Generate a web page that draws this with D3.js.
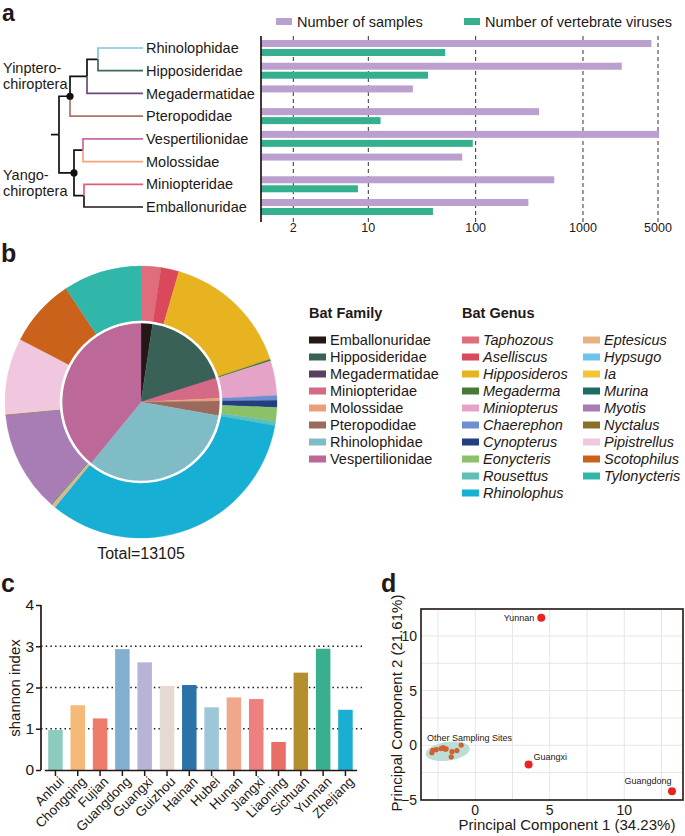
<!DOCTYPE html>
<html>
<head>
<meta charset="utf-8">
<script src="https://cdn.jsdelivr.net/npm/d3@7"></script>
<style>
  body { margin: 0; background: #fff; }
  svg { font-family: "Liberation Sans", Arial, sans-serif; fill: #231815; }
  text { fill: #231815; }
  .panel { font-weight: bold; font-size: 25px; }
</style>
</head>
<body>
<svg id="fig" width="685" height="836"></svg>
<script>
// ---- data ----
var families = ["Rhinolophidae", "Hipposideridae", "Megadermatidae", "Pteropodidae",
                "Vespertilionidae", "Molossidae", "Miniopteridae", "Emballonuridae"];
var familyColors = ["#7ec6d6", "#3d6a5e", "#6a4a78", "#b07262", "#c66aa6", "#f2a47a", "#e0607c", "#231815"];
var samples = [4340, 2300, 26, 390, 5124, 75, 540, 310];
var viruses = [52, 36, null, 13, 94, null, 8, 40];
var logTicks = [2, 10, 100, 1000, 5000];

// pie: family order (legend order)
var pieFamilies = ["Emballonuridae", "Hipposideridae", "Megadermatidae", "Miniopteridae",
                   "Molossidae", "Pteropodidae", "Rhinolophidae", "Vespertilionidae"];
var pieFamilyColors = ["#231815", "#3a6158", "#5a3f60", "#d46a85", "#eba07a", "#9b6a5c", "#80bcc5", "#bc6899"];
var pieFamilyValues = [310, 2300, 26, 540, 75, 390, 4340, 5124];

var genera = ["Taphozous", "Aselliscus", "Hipposideros", "Megaderma", "Miniopterus", "Chaerephon",
              "Cynopterus", "Eonycteris", "Rousettus", "Rhinolophus", "Eptesicus", "Hypsugo", "Ia",
              "Murina", "Myotis", "Nyctalus", "Pipistrellus", "Scotophilus", "Tylonycteris"];
var genusColors = ["#e06d7c", "#d9485b", "#e8b320", "#467a36", "#e5a3c7", "#6d8fcf", "#243f80",
                   "#8cc168", "#60c0b5", "#17afd4", "#e9b283", "#6cc4ec", "#f3c532", "#1a6c64",
                   "#a87db6", "#8a6f2a", "#f0c7df", "#cb621b", "#31b7aa"];
var genusValues = [310, 280, 2020, 26, 540, 75, 110, 210, 70, 4340, 40, 10, 15, 10, 1570, 10, 1190, 1060, 1219];

var provinces = ["Anhui", "Chongqing", "Fujian", "Guangdong", "Guangxi", "Guizhou", "Hainan", "Hubei",
                 "Hunan", "Jiangxi", "Liaoning", "Sichuan", "Yunnan", "Zhejiang"];
var shannon = [0.97, 1.57, 1.25, 2.93, 2.61, 2.04, 2.06, 1.52, 1.76, 1.72, 0.68, 2.36, 2.94, 1.46];
var provColors = ["#8ccbbf", "#f5b978", "#ee7b6a", "#82aecf", "#b8b4d8", "#e6d9d2", "#2b72a9", "#9dc6d9",
                  "#f0a88a", "#ef8080", "#e76f68", "#b58f2e", "#38b08f", "#1aaed3"];
var shannonTicks = [0, 1, 2, 3, 4];

var pcaLabeled = [
  {name: "Yunnan", pc1: 4.43, pc2: 11.67},
  {name: "Guangxi", pc1: 3.58, pc2: -1.76},
  {name: "Guangdong", pc1: 13.2, pc2: -4.19}
];
var pcaOtherPc1 = [-2.91, -2.85, -2.62, -2.30, -2.15, -1.95, -1.56, -1.23, -0.94, -1.61, -2.0];
var pcaOtherPc2 = [-0.68, -0.45, -0.40, -0.30, -0.22, -0.32, -0.58, -0.48, 0.02, -1.06, -0.35];

var svg = d3.select("#fig");
var FS = 14.5;

// ================= panel a =================
svg.append("text").attr("class", "panel").attr("x", 2).attr("y", 21).attr("font-size", 23)
  .style("font-size", "23px").text("a");

var rowY = d3.scalePoint().domain(families).range([48, 207]);

// tree, branch lengths
var tree = {children: [
  {label: ["Yinptero-", "chiroptera"], ly: [68, 84], len: 11, children: [
    {len: 17, children: [
      {len: 11, children: [
        {name: "Rhinolophidae", len: 45},
        {name: "Hipposideridae", len: 45}]},
      {name: "Megadermatidae", len: 56}]},
    {name: "Pteropodidae", len: 73}]},
  {label: ["Yango-", "chiroptera"], ly: [175, 191], len: 15, children: [
    {len: 9, children: [
      {name: "Vespertilionidae", len: 60},
      {name: "Molossidae", len: 60}]},
    {len: 10, children: [
      {name: "Miniopteridae", len: 59},
      {name: "Emballonuridae", len: 59}]}]}
]};
var treeX = d3.scaleLinear().domain([0, 84]).range([59, 143]);
var root = d3.hierarchy(tree);
root.eachBefore(function(n) { n.dist = n.parent ? n.parent.dist + n.data.len : 0; });
root.eachAfter(function(n) {
  n.yy = n.children ? d3.mean(n.children, function(c) { return c.yy; }) : rowY(n.data.name);
});
var tg = svg.append("g").attr("fill", "none").attr("stroke-width", 1.7);
root.descendants().forEach(function(n) {
  if (!n.parent) return;
  var col = n.data.name ? familyColors[families.indexOf(n.data.name)] : "#111";
  tg.append("path")
    .attr("stroke", col)
    .attr("d", "M" + treeX(n.parent.dist) + "," + n.parent.yy + "V" + n.yy + "H" + treeX(n.dist));
});
tg.append("path").attr("stroke", "#111").attr("d", "M" + treeX(-8) + "," + root.yy + "H" + treeX(0));
root.children.forEach(function(n) {
  svg.append("circle").attr("cx", treeX(n.dist)).attr("cy", n.yy).attr("r", 3.6).attr("fill", "#111");
});
svg.append("g").selectAll("text").data(root.children).enter().append("text")
  .attr("font-size", FS)
  .each(function(d) {
    var t = d3.select(this);
    d.data.label.forEach(function(s, k) {
      t.append("tspan").attr("x", 3).attr("y", d.data.ly[k]).attr("dy", "0.35em").text(s);
    });
  });
svg.append("g").selectAll("text").data(families).enter().append("text")
  .attr("x", 146).attr("y", function(d) { return rowY(d); }).attr("dy", "0.35em")
  .attr("font-size", FS).text(function(d) { return d; });

// bars
var xLog = d3.scaleLog().domain([1, 5000]).range([261, 658]);
var grid = svg.append("g");
grid.selectAll("line").data(logTicks).enter().append("line")
  .attr("x1", function(d) { return xLog(d); }).attr("x2", function(d) { return xLog(d); })
  .attr("y1", 36).attr("y2", 222)
  .attr("stroke", "#3a302c").attr("stroke-width", 1).attr("stroke-dasharray", "4,3");
grid.selectAll("text").data(logTicks).enter().append("text")
  .attr("x", function(d) { return xLog(d); }).attr("y", 228).attr("dy", "0.35em")
  .attr("text-anchor", "middle").attr("font-size", 12.5).text(function(d) { return d; });

svg.append("g").selectAll("rect").data(samples).enter().append("rect")
  .attr("x", xLog(1)).attr("y", function(d, i) { return rowY(families[i]) - 8; })
  .attr("width", function(d) { return xLog(d) - xLog(1); }).attr("height", 7)
  .attr("fill", "#bba0cf");
svg.append("g").selectAll("rect").data(viruses.filter(function(v) { return v; })).enter().append("rect")
  .attr("x", xLog(1))
  .attr("y", function(d) { return rowY(families[viruses.indexOf(d)]) + 1; })
  .attr("width", function(d) { return xLog(d) - xLog(1); }).attr("height", 7)
  .attr("fill", "#35b08e");
svg.append("line").attr("x1", 261).attr("x2", 261).attr("y1", 36).attr("y2", 222)
  .attr("stroke", "#231815").attr("stroke-width", 1.7);

// legend a
var legA = [{t: "Number of samples", c: "#bba0cf", x: 276}, {t: "Number of vertebrate viruses", c: "#35b08e", x: 464}];
legA.forEach(function(l) {
  svg.append("rect").attr("x", l.x).attr("y", 18).attr("width", 16).attr("height", 7).attr("fill", l.c);
  svg.append("text").attr("x", l.x + 21).attr("y", 22).attr("dy", "0.35em").attr("font-size", FS).text(l.t);
});

// ================= panel b =================
svg.append("text").attr("class", "panel").attr("x", 1).attr("y", 262).text("b");
var cx = 141, cy = 402;
var pie = d3.pie().sort(null).value(function(d) { return d; });
var gB = svg.append("g").attr("transform", "translate(" + cx + "," + cy + ")");
var outerArc = d3.arc().innerRadius(79).outerRadius(136);
var innerArc = d3.arc().innerRadius(0).outerRadius(79);
gB.selectAll("path.g").data(pie(genusValues)).enter().append("path").attr("class", "g")
  .attr("d", outerArc).attr("fill", function(d, i) { return genusColors[i]; })
  .attr("stroke", function(d, i) { return genusColors[i]; }).attr("stroke-width", 0.3);
gB.selectAll("path.f").data(pie(pieFamilyValues)).enter().append("path").attr("class", "f")
  .attr("d", innerArc).attr("fill", function(d, i) { return pieFamilyColors[i]; })
  .attr("stroke", function(d, i) { return pieFamilyColors[i]; }).attr("stroke-width", 0.3);
gB.append("circle").attr("r", 80).attr("fill", "none").attr("stroke", "#fff").attr("stroke-width", 2.6);
svg.append("text").attr("x", cx).attr("y", 553).attr("dy", "0.35em").attr("text-anchor", "middle")
  .attr("font-size", 16).text("Total=" + d3.sum(pieFamilyValues));

// legend b
svg.append("text").attr("x", 309).attr("y", 313).attr("dy", "0.35em").attr("font-size", FS)
  .attr("font-weight", "bold").text("Bat Family");
svg.append("text").attr("x", 462).attr("y", 313).attr("dy", "0.35em").attr("font-size", FS)
  .attr("font-weight", "bold").text("Bat Genus");
function legendCol(names, colors, x, italic) {
  var g = svg.append("g");
  var it = g.selectAll("g").data(names).enter().append("g")
    .attr("transform", function(d, i) { return "translate(" + x + "," + (340 + i * 17) + ")"; });
  it.append("rect").attr("x", 0).attr("y", -3.5).attr("width", 17).attr("height", 7)
    .attr("fill", function(d, i) { return colors[i]; });
  it.append("text").attr("x", 21).attr("dy", "0.35em").attr("font-size", FS)
    .attr("font-style", italic ? "italic" : "normal").text(function(d) { return d; });
}
legendCol(pieFamilies, pieFamilyColors, 309, false);
legendCol(genera.slice(0, 10), genusColors.slice(0, 10), 462, true);
legendCol(genera.slice(10), genusColors.slice(10), 583, true);

// ================= panel c =================
svg.append("text").attr("class", "panel").attr("x", 1).attr("y", 592).text("c");
var xC = d3.scaleBand().domain(provinces).range([44.3, 356.6]).paddingInner(0.35).paddingOuter(0.175);
var yC = d3.scaleLinear().domain([0, 4]).range([770, 605]);
var gC = svg.append("g");
gC.selectAll("line.gr").data([1, 2, 3]).enter().append("line").attr("class", "gr")
  .attr("x1", 41).attr("x2", 362).attr("y1", function(d) { return yC(d); }).attr("y2", function(d) { return yC(d); })
  .attr("stroke", "#231815").attr("stroke-width", 1.6).attr("stroke-dasharray", "1.5,3.2");
gC.selectAll("rect").data(shannon).enter().append("rect")
  .attr("x", function(d, i) { return xC(provinces[i]); })
  .attr("y", function(d) { return yC(d); })
  .attr("width", xC.bandwidth()).attr("height", function(d) { return yC(0) - yC(d); })
  .attr("fill", function(d, i) { return provColors[i]; });
var axL = gC.append("g").attr("transform", "translate(41,0)")
  .call(d3.axisLeft(yC).tickValues(shannonTicks).tickSize(5).tickPadding(2).tickFormat(d3.format("d")));
var axB = gC.append("g").attr("transform", "translate(0,770)")
  .call(d3.axisBottom(xC).tickSize(6).tickSizeOuter(0));
[axL, axB].forEach(function(a) {
  a.select(".domain").attr("stroke", "#231815").attr("stroke-width", 1.7);
  a.selectAll(".tick line").attr("stroke", "#231815").attr("stroke-width", 1.5);
  a.selectAll("text").attr("fill", "#231815").attr("font-family", "Liberation Sans, Arial, sans-serif");
});
axL.select(".domain").attr("d", "M0,605V770");
axL.selectAll("text").attr("font-size", 15.5);
axB.selectAll("text").attr("font-size", 13.5).attr("text-anchor", "end")
  .attr("dy", "0.35em").attr("y", 0)
  .attr("transform", "translate(6,9) rotate(-45)");
svg.append("text").attr("transform", "translate(15,688) rotate(-90)").attr("text-anchor", "middle")
  .attr("dy", "0.35em").attr("font-size", 15).text("shannon index");

// ================= panel d =================
svg.append("text").attr("class", "panel").attr("x", 381).attr("y", 592).text("d");
var xD = d3.scaleLinear().domain([-3.64, 13.94]).range([421, 683]);
var yD = d3.scaleLinear().domain([-5, 12.46]).range([800, 609]);
var gD = svg.append("g");
var gridX = d3.range(-2.5, 13.9, 2.5), gridY = d3.range(-2.5, 12.4, 2.5);
gD.selectAll("line.gx").data(gridX).enter().append("line").attr("class", "gx")
  .attr("x1", function(d) { return xD(d); }).attr("x2", function(d) { return xD(d); })
  .attr("y1", 609).attr("y2", 800).attr("stroke", "#e6e6e6").attr("stroke-width", 1);
gD.selectAll("line.gy").data(gridY).enter().append("line").attr("class", "gy")
  .attr("y1", function(d) { return yD(d); }).attr("y2", function(d) { return yD(d); })
  .attr("x1", 421).attr("x2", 683).attr("stroke", "#e6e6e6").attr("stroke-width", 1);
gD.append("ellipse")
  .attr("cx", xD(-1.85)).attr("cy", yD(-0.55))
  .attr("rx", xD(1.5) - xD(0)).attr("ry", yD(0) - yD(0.85))
  .attr("transform", "rotate(-8," + xD(-1.85) + "," + yD(-0.55) + ")")
  .attr("fill", "#b6d9d4").attr("opacity", 0.9);
gD.selectAll("circle.o").data(pcaOtherPc1).enter().append("circle").attr("class", "o")
  .attr("cx", function(d) { return xD(d); })
  .attr("cy", function(d, i) { return yD(pcaOtherPc2[i]); })
  .attr("r", 2.6).attr("fill", "#d0622f");
gD.selectAll("circle.l").data(pcaLabeled).enter().append("circle").attr("class", "l")
  .attr("cx", function(d) { return xD(d.pc1); }).attr("cy", function(d) { return yD(d.pc2); })
  .attr("r", 4).attr("fill", "#e8251f");
var lbl = {Yunnan: [-7, 0, "end"], Guangxi: [5, -8, "start"], Guangdong: [-24, -10, "middle"]};
gD.selectAll("text.l").data(pcaLabeled).enter().append("text").attr("class", "l")
  .attr("x", function(d) { return xD(d.pc1) + lbl[d.name][0]; })
  .attr("y", function(d) { return yD(d.pc2) + lbl[d.name][1]; })
  .attr("dy", "0.35em").attr("text-anchor", function(d) { return lbl[d.name][2]; })
  .attr("font-size", 9).text(function(d) { return d.name; });
gD.append("text").attr("x", 427).attr("y", 738).attr("dy", "0.35em").attr("font-size", 9)
  .text("Other Sampling Sites");
gD.append("rect").attr("x", 421).attr("y", 609).attr("width", 262).attr("height", 191)
  .attr("fill", "none").attr("stroke", "#2e2320").attr("stroke-width", 1.7);
gD.selectAll("text.tx").data([0, 5, 10]).enter().append("text").attr("class", "tx")
  .attr("x", function(d) { return xD(d); }).attr("y", 810).attr("dy", "0.35em")
  .attr("text-anchor", "middle").attr("font-size", 14).text(function(d) { return d; });
gD.selectAll("text.ty").data([-5, 0, 5, 10]).enter().append("text").attr("class", "ty")
  .attr("x", 417).attr("y", function(d) { return yD(d); }).attr("dy", "0.35em")
  .attr("text-anchor", "end").attr("font-size", 14).text(function(d) { return d < 0 ? "\u22125" : d; });
svg.append("text").attr("x", 567).attr("y", 825).attr("dy", "0.35em").attr("text-anchor", "middle")
  .attr("font-size", 15).text("Principal Component 1 (34.23%)");
svg.append("text").attr("transform", "translate(397,703) rotate(-90)").attr("text-anchor", "middle")
  .attr("dy", "0.35em").attr("font-size", 15).text("Principal Component 2 (21.61%)");
</script>
</body>
</html>
